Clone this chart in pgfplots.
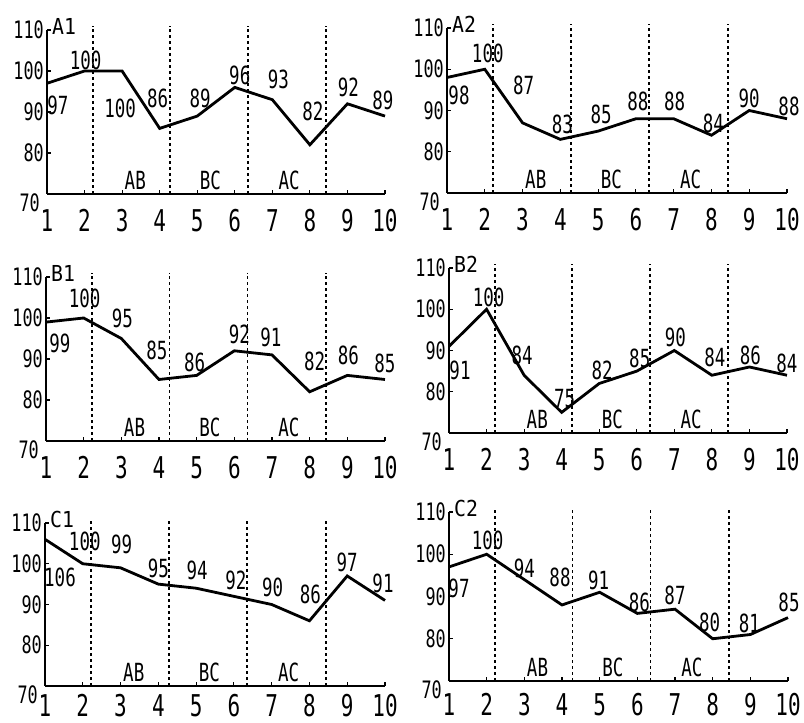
\documentclass[border=0pt]{standalone}
\usepackage{fontspec}
\setmainfont{DejaVu Sans Mono}[FakeStretch=0.7]
\newfontfamily\titlefam{DejaVu Sans Mono}[FakeStretch=0.9]
\usepackage{pgfplots}
\pgfplotsset{compat=1.18}
\newcommand\xtfont{\fontsize{30}{30}\selectfont}
\newcommand\ytfont{\fontsize{24}{24}\selectfont}
\newcommand\dfont{\fontsize{25}{25}\selectfont}
\newcommand\tfont{\titlefam\fontsize{22}{22}\selectfont}
\pgfplotsset{
  panel/.style={
    scale only axis, xmin=1, xmax=10, ymin=70, ymax=110,
    axis x line=bottom, axis y line=left,
    axis line style={line width=1.6pt, -, black},
    xtick={1,...,10}, ytick={80,90,100,110},
    extra y ticks={70},
    extra y tick style={yticklabel style={yshift=-9pt, xshift=-4pt}, major tick length=0pt},
    tick align=inside, major tick length=4pt,
    tick style={line width=1.2pt, black},
    /pgf/number format/assume math mode=true,
    xticklabel style={font=\xtfont, inner sep=0pt, anchor=north, yshift=-15pt},
    yticklabel style={font=\ytfont, inner sep=0pt, anchor=east, xshift=-3pt},
    clip=false,
  },
  dataline/.style={
    line width=2.8pt, black, no markers,
    nodes near coords, point meta=explicit symbolic,
    visualization depends on={value \thisrow{dx} \as \dx},
    visualization depends on={value \thisrow{dy} \as \dy},
    nodes near coords align={center},
    every node near coord/.append style={font=\dfont, anchor=center, inner sep=0pt, xshift=\dx pt, yshift=\dy pt, text=black},
  },
  vline/.style={line width=1.8pt, black, dash pattern=on 3pt off 3pt, no markers, forget plot},
}
\newcommand\segs{%
  \addplot[vline] coordinates {(2.22,70) (2.22,111)};
  \addplot[vline] coordinates {(4.28,70) (4.28,111)};
  \addplot[vline] coordinates {(6.35,70) (6.35,111)};
  \addplot[vline] coordinates {(8.43,70) (8.43,111)};
  \node[font=\dfont] at (axis cs:3.35,73.3) {AB};
  \node[font=\dfont] at (axis cs:5.35,73.3) {BC};
  \node[font=\dfont] at (axis cs:7.45,73.3) {AC};
}
\newcommand\ttl[1]{\node[font=\tfont, anchor=west, inner sep=0pt] at ([xshift=5pt,yshift=4pt]rel axis cs:0,1) {#1};}
\begin{document}
\begin{tikzpicture}
\useasboundingbox (0,0) rectangle (804pt,723pt);
% A1
\begin{axis}[panel, at={(47pt,529pt)}, anchor=south west, width=338pt, height=164pt]
\segs
\addplot[dataline] table[x=x,y=y,meta=y] {
x y dx dy
1 97 11 -22
2 100 1 11
3 100 -2 -37
4 86 -2 30
5 89 3 18
6 96 5 12
7 93 6 20
8 82 3 33
9 92 1 16
10 89 -2 16
};
\ttl{A1}
\end{axis}
% A2
\begin{axis}[panel, at={(447pt,530pt)}, anchor=south west, width=340pt, height=165pt]
\segs
\addplot[dataline] table[x=x,y=y,meta=y] {
x y dx dy
1 98 12 -18
2 100 3 16
3 87 1 37
4 83 2 15
5 85 3 17
6 88 2 17
7 88 1 17
8 84 2 12
9 90 0 12
10 88 2 12
};
\ttl{A2}
\end{axis}
% B1
\begin{axis}[panel, at={(46pt,282pt)}, anchor=south west, width=339pt, height=164pt]
\segs
\addplot[dataline] table[x=x,y=y,meta=y] {
x y dx dy
1 99 14 -21
2 100 1 20
3 95 1 20
4 85 -2 29
5 86 -2 13
6 92 5 16
7 91 -1 17
8 82 5 30
9 86 1 20
10 85 0 16
};
\ttl{B1}
\end{axis}
% B2
\begin{axis}[panel, at={(449pt,290pt)}, anchor=south west, width=338pt, height=165pt]
\segs
\addplot[dataline] table[x=x,y=y,meta=y] {
x y dx dy
1 91 11 -24
2 100 2 12
3 84 -2 20
4 75 3 14
5 82 3 13
6 85 3 13
7 90 1 13
8 84 3 18
9 86 1 12
10 84 0 12
};
\ttl{B2}
\end{axis}
% C1
\begin{axis}[panel, at={(45pt,37pt)}, anchor=south west, width=340pt, height=163pt,
  xticklabel style={yshift=7pt}]
\segs
\addplot[dataline] table[x=x,y=y,meta=y] {
x y dx dy
1 106 15 -38
2 100 2 22
3 99 1 23
4 95 0 16
5 94 1 18
6 92 2 16
7 90 1 17
8 86 1 26
9 97 0 14
10 91 -2 17
};
\ttl{C1}
\end{axis}
% C2
\begin{axis}[panel, at={(449pt,42pt)}, anchor=south west, width=339pt, height=169pt,
  xticklabel style={yshift=3pt}]
\segs
\addplot[dataline] table[x=x,y=y,meta=y] {
x y dx dy
1 97 10 -21
2 100 1 14
3 94 0 11
4 88 -2 28
5 91 -1 12
6 86 2 11
7 87 0 14
8 80 -3 16
9 81 -1 11
10 85 1 15
};
\ttl{C2}
\end{axis}
\end{tikzpicture}
\end{document}
